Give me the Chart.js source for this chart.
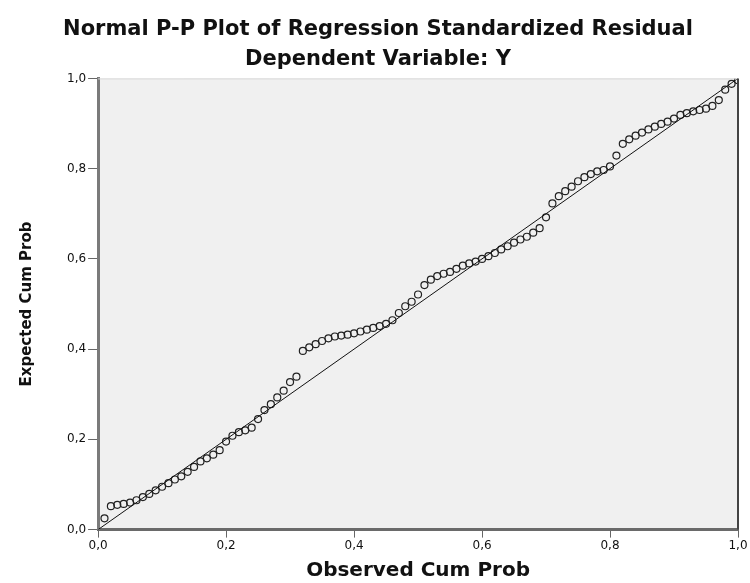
<!DOCTYPE html>
<html>
<head>
<meta charset="utf-8">
<script src="https://cdn.jsdelivr.net/npm/chart.js@4"></script>
<style>
  html, body { margin: 0; padding: 0; background: #fff; }
  #pp-wrap { width: 750px; height: 583px; }
</style>
</head>
<body>
<div id="pp-wrap"><canvas id="pp-plot"></canvas></div>
<script>
const observedCumProb = [
  0.01, 0.02, 0.03, 0.04, 0.05, 0.06, 0.07, 0.08, 0.09, 0.10,
  0.11, 0.12, 0.13, 0.14, 0.15, 0.16, 0.17, 0.18, 0.19, 0.20,
  0.21, 0.22, 0.23, 0.24, 0.25, 0.26, 0.27, 0.28, 0.29, 0.30,
  0.31, 0.32, 0.33, 0.34, 0.35, 0.36, 0.37, 0.38, 0.39, 0.40,
  0.41, 0.42, 0.43, 0.44, 0.45, 0.46, 0.47, 0.48, 0.49, 0.50,
  0.51, 0.52, 0.53, 0.54, 0.55, 0.56, 0.57, 0.58, 0.59, 0.60,
  0.61, 0.62, 0.63, 0.64, 0.65, 0.66, 0.67, 0.68, 0.69, 0.70,
  0.71, 0.72, 0.73, 0.74, 0.75, 0.76, 0.77, 0.78, 0.79, 0.80,
  0.81, 0.82, 0.83, 0.84, 0.85, 0.86, 0.87, 0.88, 0.89, 0.90,
  0.91, 0.92, 0.93, 0.94, 0.95, 0.96, 0.97, 0.98, 0.99, 1.00
];

const expectedCumProb = [
  0.025, 0.052, 0.055, 0.057, 0.060, 0.065, 0.072, 0.079, 0.087, 0.095,
  0.103, 0.111, 0.118, 0.128, 0.139, 0.151, 0.158, 0.166, 0.176, 0.195,
  0.208, 0.216, 0.220, 0.226, 0.245, 0.265, 0.278, 0.293, 0.308, 0.327,
  0.339, 0.396, 0.404, 0.411, 0.418, 0.424, 0.428, 0.430, 0.432, 0.435,
  0.439, 0.443, 0.447, 0.451, 0.456, 0.464, 0.480, 0.495, 0.505, 0.521,
  0.542, 0.554, 0.562, 0.567, 0.571, 0.578, 0.585, 0.590, 0.594, 0.600,
  0.606, 0.613, 0.621, 0.628, 0.636, 0.643, 0.649, 0.658, 0.668, 0.692,
  0.723, 0.739, 0.750, 0.760, 0.772, 0.781, 0.788, 0.794, 0.797, 0.805,
  0.829, 0.855, 0.865, 0.873, 0.880, 0.887, 0.893, 0.899, 0.904, 0.911,
  0.919, 0.923, 0.927, 0.930, 0.933, 0.939, 0.952, 0.975, 0.988, 0.996
];

const refLineX = [0, 1];
const refLineY = [0, 1];
const tickLabels = ["0,0", "0,2", "0,4", "0,6", "0,8", "1,0"];

const fontFamily = "'DejaVu Sans', Verdana, sans-serif";

// grey plot area plus the frame edges SPSS draws
const plotFrame = {
  id: "plotFrame",
  beforeDraw(chart) {
    const { ctx, chartArea: a } = chart;
    ctx.save();
    ctx.fillStyle = "#f0f0f0";
    ctx.fillRect(a.left, a.top, a.right - a.left, a.bottom - a.top);
    ctx.restore();
  },
  afterDraw(chart) {
    const { ctx, chartArea: a } = chart;
    ctx.save();
    ctx.strokeStyle = "#d8d8d8";
    ctx.lineWidth = 1;
    ctx.beginPath();
    ctx.moveTo(a.left, a.top + 0.5);
    ctx.lineTo(a.right, a.top + 0.5);
    ctx.stroke();
    ctx.strokeStyle = "#444";
    ctx.lineWidth = 2;
    ctx.beginPath();
    ctx.moveTo(a.right, a.top);
    ctx.lineTo(a.right, a.bottom);
    ctx.stroke();
    ctx.restore();
  }
};

const renderPlot = () => {
  const canvas = document.querySelector("#pp-plot");

  const points = observedCumProb.map((x, i) => ({ x: x, y: expectedCumProb[i] }));
  const line = refLineX.map((x, i) => ({ x: x, y: refLineY[i] }));

  const axisTick = (value, index) => tickLabels[index];

  new Chart(canvas, {
    type: "scatter",
    data: {
      datasets: [
        {
          data: points,
          pointStyle: "circle",
          pointRadius: 3.5,
          pointBorderWidth: 1.2,
          pointBorderColor: "#222",
          pointBackgroundColor: "rgba(0,0,0,0)",
          order: 2,
        },
        {
          type: "line",
          data: line,
          borderColor: "#111",
          borderWidth: 1,
          pointRadius: 0,
          order: 1,
        },
      ],
    },
    options: {
      responsive: true,
      maintainAspectRatio: false,
      animation: false,
      layout: { padding: { top: 17, right: 12, bottom: 0, left: 18 } },
      plugins: {
        legend: { display: false },
        tooltip: { enabled: false },
        title: {
          display: true,
          text: "Normal P-P Plot of Regression Standardized Residual",
          color: "#111",
          font: { family: fontFamily, size: 21, weight: "bold" },
          padding: { top: 0, bottom: 5 },
        },
        subtitle: {
          display: true,
          text: "Dependent Variable: Y",
          color: "#111",
          font: { family: fontFamily, size: 21, weight: "bold" },
          padding: { top: 0, bottom: 6 },
        },
      },
      scales: {
        x: {
          type: "linear",
          min: 0,
          max: 1,
          ticks: {
            stepSize: 0.2,
            callback: axisTick,
            color: "#111",
            font: { family: fontFamily, size: 12 },
            padding: 1,
            maxRotation: 0,
          },
          grid: {
            drawOnChartArea: false,
            drawTicks: true,
            tickLength: 8,
            color: "#666",
          },
          border: { display: true, color: "#6a6a6a", width: 3 },
          title: {
            display: true,
            text: "Observed Cum Prob",
            color: "#111",
            font: { family: fontFamily, size: 20, weight: "bold" },
            padding: { top: 5, bottom: 0 },
          },
        },
        y: {
          type: "linear",
          min: 0,
          max: 1,
          ticks: {
            stepSize: 0.2,
            callback: axisTick,
            color: "#111",
            font: { family: fontFamily, size: 12 },
            padding: 2,
          },
          grid: {
            drawOnChartArea: false,
            drawTicks: true,
            tickLength: 10,
            color: "#666",
          },
          border: { display: true, color: "#7a7a7a", width: 3 },
          title: {
            display: true,
            text: "Expected Cum Prob",
            color: "#111",
            font: { family: fontFamily, size: 15, weight: "bold" },
            padding: { top: 0, bottom: 29 },
          },
        },
      },
    },
    plugins: [plotFrame],
  });
};

document.addEventListener("DOMContentLoaded", renderPlot);
</script>
</body>
</html>
